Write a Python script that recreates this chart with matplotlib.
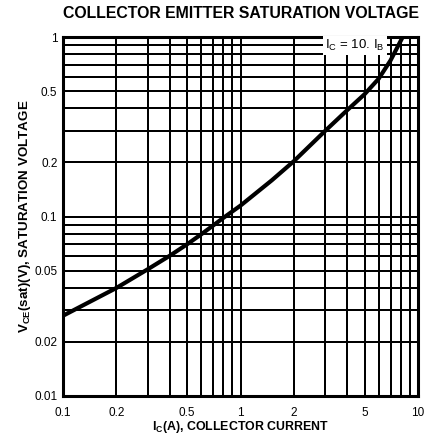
import numpy as np
import matplotlib
matplotlib.use("Agg")
import matplotlib.pyplot as plt
from matplotlib.ticker import FixedLocator, FixedFormatter, LogLocator, NullFormatter

plt.rcParams['font.family'] = ['Liberation Sans', 'DejaVu Sans']
plt.rcParams['mathtext.fontset'] = 'custom'
plt.rcParams['mathtext.rm'] = 'Liberation Sans'
plt.rcParams['mathtext.bf'] = 'Liberation Sans:bold'

# curve (Ic = 10 Ib)
ic = [0.1, 0.2, 0.3, 0.4, 0.5, 0.6, 0.7, 0.8, 1.0, 1.5, 2.0, 3.0, 4.0, 5.0,
      6.0, 7.0, 8.2]
vce = [0.0280, 0.0400, 0.0508, 0.0605, 0.0700, 0.0795, 0.0890, 0.0982, 0.115,
       0.159, 0.2035, 0.300, 0.392, 0.480, 0.585, 0.740, 1.0]

x_ticks = [0.1, 0.2, 0.5, 1, 2, 5, 10]
x_labels = ["0.1", "0.2", "0.5", "1", "2", "5", "10"]
y_ticks = [0.01, 0.02, 0.05, 0.1, 0.2, 0.5, 1]
y_labels = ["0.01", "0.02", "0.05", "0.1", "0.2", "0.5", "1"]

fig = plt.figure(figsize=(4.28, 4.45), dpi=100)
ax = fig.add_axes([63 / 428, 49 / 445, 355 / 428, 359 / 445])

ax.set_xscale('log')
ax.set_yscale('log')
ax.set_xlim(0.1, 10)
ax.set_ylim(0.01, 1)

ax.xaxis.set_major_locator(FixedLocator(x_ticks))
ax.xaxis.set_major_formatter(FixedFormatter(x_labels))
ax.yaxis.set_major_locator(FixedLocator(y_ticks))
ax.yaxis.set_major_formatter(FixedFormatter(y_labels))
ax.xaxis.set_minor_locator(LogLocator(base=10, subs=np.arange(1, 10)))
ax.yaxis.set_minor_locator(LogLocator(base=10, subs=np.arange(1, 10)))
ax.xaxis.set_minor_formatter(NullFormatter())
ax.yaxis.set_minor_formatter(NullFormatter())

ax.grid(True, which='both', color='black', linewidth=1.44, snap=True,
        antialiased=False)
ax.tick_params(axis='x', which='both', length=0, labelsize=8.5, pad=8)
ax.tick_params(axis='y', which='both', length=0, labelsize=8.5, pad=4)
for s in ax.spines.values():
    s.set_linewidth(2.2)

ax.plot(ic, vce, color='black', linewidth=3, solid_capstyle='butt',
        solid_joinstyle='round', zorder=5)

ax.text(3.0, 0.895, r"I$_\mathregular{C}$ = 10. I$_\mathregular{B}$", fontsize=9.5,
        va='center', ha='left',
        bbox=dict(facecolor='white', edgecolor='none', pad=1.5), zorder=4)

fig.text(0.562, 0.97, "COLLECTOR EMITTER SATURATION VOLTAGE", ha='center', va='center',
         fontsize=11.4, fontweight='bold')
ax.set_xlabel(r"I$_\mathregular{C}$(A), COLLECTOR CURRENT", fontsize=8.9,
              fontweight='bold', labelpad=0)
ax.set_ylabel(r"V$_\mathregular{CE}$(sat)(V), SATURATION VOLTAGE", fontsize=9.6,
              fontweight='bold', labelpad=1)

fig.savefig("out.png", dpi=100)
